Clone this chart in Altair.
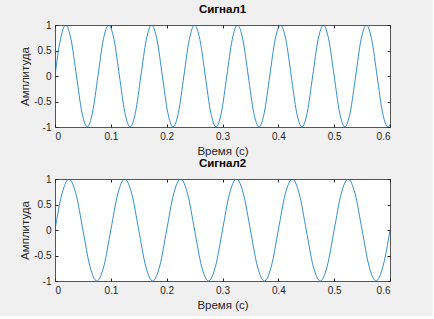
import altair as alt
import pandas as pd

# Signal 1 samples (time, amplitude)
t1 = [0, 0.0096, 0.0192, 0.0288, 0.0385, 0.0481, 0.0577, 0.0673,
      0.0769, 0.0865, 0.0962, 0.1058, 0.1154, 0.1250, 0.1346, 0.1442,
      0.1538, 0.1635, 0.1731, 0.1827, 0.1923, 0.2019, 0.2115, 0.2212,
      0.2308, 0.2404, 0.2500, 0.2596, 0.2692, 0.2788, 0.2885, 0.2981,
      0.3077, 0.3173, 0.3269, 0.3365, 0.3462, 0.3558, 0.3654, 0.3750,
      0.3846, 0.3942, 0.4038, 0.4135, 0.4231, 0.4327, 0.4423, 0.4519,
      0.4615, 0.4712, 0.4808, 0.4904, 0.5000, 0.5096, 0.5192, 0.5288,
      0.5385, 0.5481, 0.5577, 0.5673, 0.5769, 0.5865, 0.5962, 0.6]
y1 = [0, 0.71, 1, 0.71, 0, -0.71, -1, -0.71,
      0, 0.71, 1, 0.71, 0, -0.71, -1, -0.71,
      0, 0.71, 1, 0.71, 0, -0.71, -1, -0.71,
      0, 0.71, 1, 0.71, 0, -0.71, -1, -0.71,
      0, 0.71, 1, 0.71, 0, -0.71, -1, -0.71,
      0, 0.71, 1, 0.71, 0, -0.71, -1, -0.71,
      0, 0.71, 1, 0.71, 0, -0.71, -1, -0.71,
      0, 0.71, 1, 0.71, 0, -0.71, -1, -0.95]

# Signal 2 samples
t2 = [0, 0.0125, 0.025, 0.0375, 0.05, 0.0625, 0.075, 0.0875,
      0.1, 0.1125, 0.125, 0.1375, 0.15, 0.1625, 0.175, 0.1875,
      0.2, 0.2125, 0.225, 0.2375, 0.25, 0.2625, 0.275, 0.2875,
      0.3, 0.3125, 0.325, 0.3375, 0.35, 0.3625, 0.375, 0.3875,
      0.4, 0.4125, 0.425, 0.4375, 0.45, 0.4625, 0.475, 0.4875,
      0.5, 0.5125, 0.525, 0.5375, 0.55, 0.5625, 0.575, 0.5875, 0.6]
y2 = [0, 0.71, 1, 0.71, 0, -0.71, -1, -0.71,
      0, 0.71, 1, 0.71, 0, -0.71, -1, -0.71,
      0, 0.71, 1, 0.71, 0, -0.71, -1, -0.71,
      0, 0.71, 1, 0.71, 0, -0.71, -1, -0.71,
      0, 0.71, 1, 0.71, 0, -0.71, -1, -0.71,
      0, 0.71, 1, 0.71, 0, -0.71, -1, -0.71, 0]

titles = ["Сигнал1", "Сигнал2"]
x_title = "Время (с)"
y_title = "Амплитуда"
x_ticks = [0, 0.1, 0.2, 0.3, 0.4, 0.5, 0.6]
y_ticks = [-1, -0.5, 0, 0.5, 1]

FONT = "Liberation Sans"
AX = "#262626"
LINE = "#0072BD"


def panel(t, y, title):
    df = pd.DataFrame({"t": t, "y": y})
    xs = alt.Scale(domain=[0, 0.6], nice=False, zero=False)
    ys = alt.Scale(domain=[-1, 1], nice=False, zero=False)
    common = dict(domain=False, grid=False, tickSize=3, offset=-3,
                  tickColor=AX, tickWidth=1)
    main = alt.Chart(df).mark_line(color=LINE, strokeWidth=0.8, interpolate="monotone", clip=True).encode(
        x=alt.X("t:Q", scale=xs, axis=alt.Axis(
            orient="bottom", values=x_ticks, title=x_title, labelExpr="'' + datum.value",
            labelPadding=4, titlePadding=4, labelFont=FONT, titleFont=FONT,
            labelFontSize=10, titleFontSize=11.5, labelColor=AX, titleColor=AX,
            titleFontWeight="normal", **common)),
        y=alt.Y("y:Q", scale=ys, axis=alt.Axis(
            orient="left", values=y_ticks, title=y_title, labelExpr="'' + datum.value",
            labelPadding=4, titlePadding=3, labelFont=FONT, titleFont=FONT,
            labelFontSize=10, titleFontSize=11.5, labelColor=AX, titleColor=AX,
            titleFontWeight="normal", **common)),
    )
    mirror = alt.Chart(df).mark_line(opacity=0).encode(
        x=alt.X("t:Q", scale=xs, axis=alt.Axis(
            orient="top", values=x_ticks, title=None, labels=False, **common)),
        y=alt.Y("y:Q", scale=ys, axis=alt.Axis(
            orient="right", values=y_ticks, title=None, labels=False, **common)),
    )
    return alt.layer(main, mirror).resolve_axis(x="independent", y="independent").properties(
        width=335, height=102,
        title=alt.TitleParams(title, font=FONT, fontSize=11.5, fontWeight="bold",
                              color="#000000", offset=5, anchor="middle"),
    )


chart = alt.vconcat(
    panel(t1, y1, titles[0]),
    panel(t2, y2, titles[1]),
    spacing=52,
    bounds="flush",
).properties(
    padding={"left": 19, "top": 3, "right": 42, "bottom": 5},
    background="#f0f0f0",
).configure_view(
    fill="white", stroke="#555555", strokeWidth=1
)

chart.save("out.html", embed_options={"renderer": "svg", "actions": False})
